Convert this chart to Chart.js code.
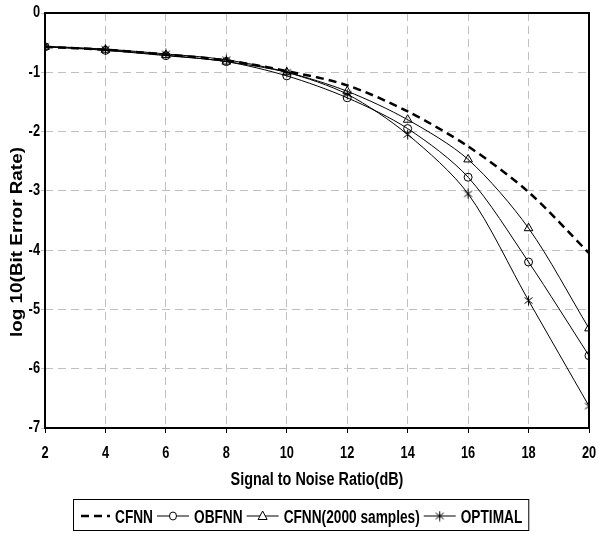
<!DOCTYPE html>
<html>
<head>
<meta charset="utf-8">
<script src="https://cdn.jsdelivr.net/npm/chart.js@4"></script>
<style>
  body { margin: 0; background: #fff; }
  #wrap { width: 597px; height: 533px; }
</style>
</head>
<body>
<div id="wrap"><canvas id="myChart" width="597" height="533"></canvas></div>
<script>
// SNR values (dB)
var snr = [2, 4, 6, 8, 10, 12, 14, 16, 18, 20];
// log10(BER)
var cfnn    = [-0.57, -0.62, -0.70, -0.80, -0.98, -1.22, -1.66, -2.25, -3.02, -4.05];
var obfnn   = [-0.57, -0.63, -0.72, -0.82, -1.06, -1.43, -1.95, -2.77, -4.20, -5.78];
var cfnn2k  = [-0.57, -0.62, -0.71, -0.82, -1.00, -1.32, -1.80, -2.47, -3.63, -5.32];
var optimal = [-0.56, -0.61, -0.69, -0.79, -1.00, -1.37, -2.05, -3.05, -4.85, -6.63];
var seriesNames = ['CFNN', 'OBFNN', 'CFNN(2000 samples)', 'OPTIMAL'];
var xTicks = [2, 4, 6, 8, 10, 12, 14, 16, 18, 20];
var yTicks = [0, -1, -2, -3, -4, -5, -6, -7];
var xTitle = 'Signal to Noise Ratio(dB)';
var yTitle = 'log 10(Bit Error Rate)';

var FONT = "'Liberation Sans', Arial, sans-serif";

// excel style star: an x with a vertical bar
function makeStar(size){
  var c = document.createElement('canvas');
  c.width = size; c.height = size;
  var g = c.getContext('2d');
  var m = size / 2, r = size / 2 - 0.5;
  g.strokeStyle = '#000';
  g.lineWidth = 1;
  g.beginPath();
  g.moveTo(m, m - r); g.lineTo(m, m + r);
  g.moveTo(m - r * 0.8, m - r * 0.6); g.lineTo(m + r * 0.8, m + r * 0.6);
  g.moveTo(m - r * 0.8, m + r * 0.6); g.lineTo(m + r * 0.8, m - r * 0.6);
  g.stroke();
  return c;
}
var starImg = makeStar(11);

function pts(arr){
  return arr.map(function(v, i){ return {x: snr[i], y: v}; });
}

// narrow bold text, the figure was squeezed sideways
function drawText(ctx, txt, x, y, o){
  ctx.save();
  ctx.translate(x, y);
  if (o.rot) ctx.rotate(o.rot);
  ctx.scale(o.sx || 1, o.sy || 1);
  ctx.font = 'bold ' + o.size + 'px ' + FONT;
  ctx.fillStyle = '#000';
  ctx.textAlign = o.align || 'left';
  ctx.textBaseline = o.base || 'alphabetic';
  ctx.fillText(txt, 0, 0);
  ctx.restore();
}

var dataSource = {
  datasets: [
    {
      label: seriesNames[0],
      data: pts(cfnn),
      borderColor: '#000',
      borderWidth: 2.5,
      borderDash: [8, 5],
      pointRadius: 0,
      tension: 0.3
    },
    {
      label: seriesNames[1],
      data: pts(obfnn),
      borderColor: '#000',
      borderWidth: 1,
      pointStyle: 'circle',
      pointRadius: 4,
      pointBorderWidth: 1,
      pointBorderColor: '#000',
      pointBackgroundColor: 'rgba(0,0,0,0)',
      tension: 0.3
    },
    {
      label: seriesNames[2],
      data: pts(cfnn2k),
      borderColor: '#000',
      borderWidth: 1,
      pointStyle: 'triangle',
      pointRadius: 5,
      pointBorderWidth: 1,
      pointBorderColor: '#000',
      pointBackgroundColor: 'rgba(0,0,0,0)',
      tension: 0.3
    },
    {
      label: seriesNames[3],
      data: pts(optimal),
      borderColor: '#000',
      borderWidth: 1,
      pointStyle: starImg,
      pointRadius: 5,
      tension: 0.3
    }
  ]
};

// frame round the plot area + axis texts
var framePlugin = {
  id: 'frame',
  afterDatasetsDraw: function(chart){
    var a = chart.chartArea, ctx = chart.ctx;
    ctx.save();
    ctx.strokeStyle = '#000';
    ctx.lineWidth = 2;
    ctx.strokeRect(a.left, a.top, a.right - a.left, a.bottom - a.top);
    ctx.restore();
  },
  afterDraw: function(chart){
    var ctx = chart.ctx, xs = chart.scales.x, ys = chart.scales.y, a = chart.chartArea;
    xTicks.forEach(function(v){
      drawText(ctx, String(v), xs.getPixelForValue(v), 458, {size: 16, sx: 0.8, align: 'center'});
    });
    yTicks.forEach(function(v){
      drawText(ctx, String(v), 40, ys.getPixelForValue(v), {size: 16, sx: 0.8, align: 'right', base: 'middle'});
    });
    drawText(ctx, xTitle, (a.left + a.right) / 2, 485, {size: 18, sx: 0.8, align: 'center'});
    drawText(ctx, yTitle, 22, 242, {size: 16, sx: 1.18, rot: -Math.PI / 2, align: 'center'});
  }
};

// boxed legend like the excel one
var legendPlugin = {
  id: 'boxLegend',
  afterDraw: function(chart){
    var ctx = chart.ctx;
    var bx = 73, by = 499, bh = 31;
    var sx = 0.76, size = 18;
    var cy = 516;
    ctx.save();
    ctx.font = 'bold ' + size + 'px ' + FONT;
    var x = bx + 8;
    var items = [];
    chart.data.datasets.forEach(function(ds, i){
      var seg = i === 0 ? 29 : 32;
      if (i > 0) x += 4;
      items.push({ds: ds, x0: x, seg: seg});
      x += seg + 5;
      items[i].tx = x;
      x += ctx.measureText(ds.label).width * sx;
    });
    var bw = x + 6 - bx;
    ctx.fillStyle = '#fff';
    ctx.fillRect(bx, by, bw, bh);
    ctx.strokeStyle = '#000';
    ctx.lineWidth = 1;
    ctx.strokeRect(bx + 0.5, by + 0.5, bw, bh);
    items.forEach(function(it){
      var ds = it.ds;
      ctx.save();
      ctx.strokeStyle = '#000';
      ctx.lineWidth = ds.borderWidth;
      ctx.setLineDash(ds.borderDash || []);
      ctx.beginPath();
      ctx.moveTo(it.x0, cy); ctx.lineTo(it.x0 + it.seg, cy);
      ctx.stroke();
      ctx.restore();
      var mx = it.x0 + it.seg / 2;
      ctx.save();
      ctx.strokeStyle = '#000';
      ctx.lineWidth = 1;
      if (ds.pointStyle === 'circle') {
        ctx.fillStyle = '#fff';
        ctx.beginPath(); ctx.ellipse(mx, cy, 3.5, 4, 0, 0, Math.PI * 2); ctx.fill(); ctx.stroke();
      } else if (ds.pointStyle === 'triangle') {
        ctx.fillStyle = '#fff';
        ctx.beginPath();
        ctx.moveTo(mx, cy - 5); ctx.lineTo(mx + 4.5, cy + 3.5); ctx.lineTo(mx - 4.5, cy + 3.5);
        ctx.closePath(); ctx.fill(); ctx.stroke();
      } else if (ds.pointStyle === starImg) {
        ctx.drawImage(starImg, mx - 5.5, cy - 5.5);
      }
      ctx.restore();
      drawText(ctx, ds.label, it.tx, 523, {size: size, sx: sx});
    });
    ctx.restore();
  }
};

function createChart(){
  var ctx = document.getElementById('myChart');
  var myChart = new Chart(ctx, {
    type: 'line',
    data: dataSource,
    plugins: [framePlugin, legendPlugin],
    options: {
      responsive: false,
      animation: false,
      devicePixelRatio: 1,
      layout: { padding: { top: 13, right: 8, bottom: 45, left: 0 } },
      plugins: { legend: { display: false }, tooltip: { enabled: false } },
      scales: {
        x: {
          type: 'linear',
          min: 2, max: 20,
          afterFit: function(s){ s.height = 60; s.paddingLeft = 0; s.paddingRight = 0; },
          afterBuildTicks: function(s){ s.ticks = xTicks.map(function(v){ return {value: v}; }); },
          ticks: { display: false },
          grid: { color: '#c0c0c0', tickColor: '#000', tickLength: 5 },
          border: { display: false, dash: [8, 5] },
          title: { display: false }
        },
        y: {
          min: -7, max: 0,
          afterFit: function(s){ s.width = 45; },
          afterBuildTicks: function(s){ s.ticks = yTicks.map(function(v){ return {value: v}; }); },
          ticks: { display: false },
          grid: { color: '#c0c0c0', tickColor: '#c0c0c0', tickLength: 4 },
          border: { display: false, dash: [8, 5] },
          title: { display: false }
        }
      }
    }
  });
  return myChart;
}

createChart();
</script>
</body>
</html>
